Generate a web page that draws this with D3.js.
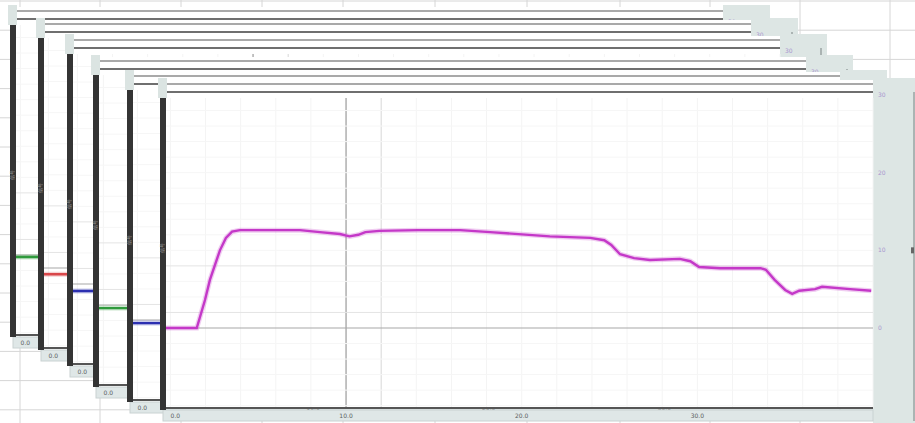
<!DOCTYPE html>
<html>
<head>
<meta charset="utf-8">
<script src="https://cdn.jsdelivr.net/npm/d3@7"></script>
<style>
  body { margin: 0; background: #fff; }
  svg { display: block; font-family: "DejaVu Sans", sans-serif; }
</style>
</head>
<body>
<svg></svg>
<script>
const svg = d3.select('svg')
	.attr('width', 915)
	.attr('height', 423);

// main trace (front window): time and reading
const times  = [-0.25, 1.5, 1.97, 2.25, 2.82, 3.16, 3.51, 3.96, 7.38, 8.51, 9.65, 10.2, 10.7, 11.1, 11.9, 14.1, 16.5, 18.2, 21.6, 23.9, 24.7, 25.1, 25.6, 26.4, 27.3, 29.0, 29.6, 30.1, 31.3, 33.6, 33.9, 34.4, 35.0, 35.4, 35.8, 36.7, 37.1, 38.7, 39.9];
const values = [0, 0, 3.6, 6.2, 10.0, 11.6, 12.4, 12.6, 12.6, 12.35, 12.1, 11.8, 12.0, 12.35, 12.5, 12.6, 12.6, 12.35, 11.8, 11.6, 11.3, 10.7, 9.5, 9.0, 8.75, 8.9, 8.6, 7.85, 7.7, 7.7, 7.5, 6.2, 4.9, 4.4, 4.8, 5.0, 5.3, 5.0, 4.8];

// the windows stacked behind: only the start of each trace shows
const backTimes  = [-0.25, 1.6];
const backLevels = [-0.25, -0.8, -0.9, -0.4, -0.4];
const backColors = ['#2f9a3c', '#d9474a', '#2b2fb0', '#2f9a3c', '#2b2fb0'];

const xTicks = [0, 10, 20, 30];
const xTickLabels = ['0.0', '10.0', '20.0', '30.0'];
const yTicks = [0, 10, 20, 30];
const yTickLabels = ['0', '10', '20', '30'];

// window placement (left edge of dark bar, top of plot)
const wins = [
	{L: 10,  T: 25},
	{L: 38,  T: 38},
	{L: 67,  T: 54},
	{L: 93,  T: 75},
	{L: 127, T: 90},
	{L: 160, T: 98}
];

const plotW = 713, plotH = 310, panelW = 47;

// spreadsheet behind everything
const sheet = svg.append('g');
const colX = [20, 100, 181, 262, 343, 435, 527, 620, 710, 800, 890];
sheet.selectAll('line.c').data(colX).enter().append('line')
	.attr('x1', d => d).attr('x2', d => d)
	.attr('y1', 0).attr('y2', 423)
	.attr('stroke', '#d6d6d6');
sheet.selectAll('line.r').data(d3.range(1, 423, 29.2)).enter().append('line')
	.attr('x1', 0).attr('x2', 915)
	.attr('y1', d => d).attr('y2', d => d)
	.attr('stroke', '#d6d6d6');

const x = d3.scaleLinear().domain([-0.25, 40]).range([6, plotW]);
const y = d3.scaleLinear().domain([0, 30]).range([230, -3]);

const line = d3.line()
	.x(d => x(d[0]))
	.y(d => y(d[1]));

function drawWindow(w, i) {
	const g = svg.append('g').attr('transform', `translate(${w.L}, ${w.T})`);

	// right side panel
	g.append('rect')
		.attr('x', plotW).attr('y', -20)
		.attr('width', panelW).attr('height', 345)
		.attr('fill', '#dde6e4');
	g.append('line')
		.attr('x1', plotW + 41).attr('x2', plotW + 41)
		.attr('y1', -6).attr('y2', 323)
		.attr('stroke', '#9aa3a3').attr('stroke-width', 1.5);

	// header band with its double rule
	g.append('rect')
		.attr('x', 6).attr('y', -18)
		.attr('width', plotW - 6).attr('height', 18)
		.attr('fill', '#fff');
	g.append('line')
		.attr('x1', 6).attr('x2', plotW)
		.attr('y1', -14).attr('y2', -14)
		.attr('stroke', '#8d8d8d').attr('stroke-width', 1.6);
	g.append('line')
		.attr('x1', 6).attr('x2', plotW)
		.attr('y1', -6).attr('y2', -6)
		.attr('stroke', '#6f6f6f').attr('stroke-width', 2);
	g.append('rect')
		.attr('x', -2).attr('y', -20)
		.attr('width', 9).attr('height', 20)
		.attr('fill', '#dbe4e2');

	// plot area
	g.append('rect')
		.attr('x', 6).attr('y', 0)
		.attr('width', plotW - 6).attr('height', plotH)
		.attr('fill', '#fff');

	g.append('g').selectAll('line')
		.data(d3.range(0, 41, 2)).enter().append('line')
		.attr('x1', d => x(d)).attr('x2', d => x(d))
		.attr('y1', 0).attr('y2', plotH)
		.attr('stroke', d => d === 10 ? '#9a9a9a' : (d === 12 ? '#d8d8d8' : '#f4f4f4'))
		.attr('stroke-width', d => d === 10 ? 1.2 : 1);
	g.append('g').selectAll('line')
		.data(d3.range(-10, 30, 2)).enter().append('line')
		.attr('x1', 6).attr('x2', plotW)
		.attr('y1', d => y(d)).attr('y2', d => y(d))
		.attr('stroke', d => d === 0 ? '#a8a8a8' : (d === 2 || d === 8) ? '#e4e4e4' : '#f6f6f6')
		.attr('stroke-width', d => d === 0 ? 1.2 : 1);

	// trace
	const pts = i === wins.length - 1
		? times.map((t, k) => [t, values[k]])
		: backTimes.map(t => [t, backLevels[i]]);
	const col = i === wins.length - 1 ? '#c438c8' : backColors[i];
	g.append('path').datum(pts)
		.attr('d', line)
		.attr('fill', 'none')
		.attr('stroke', col)
		.attr('stroke-opacity', 0.25)
		.attr('stroke-width', 5);
	g.append('path').datum(pts)
		.attr('d', line)
		.attr('fill', 'none')
		.attr('stroke', col)
		.attr('stroke-width', 2.4);

	// bottom rule and label bar
	g.append('line')
		.attr('x1', 6).attr('x2', plotW)
		.attr('y1', plotH).attr('y2', plotH)
		.attr('stroke', '#555').attr('stroke-width', 2);
	g.append('rect')
		.attr('x', 3).attr('y', plotH + 2)
		.attr('width', plotW - 3).attr('height', 11)
		.attr('fill', '#dfe7e7')
		.attr('stroke', '#c9d2d2');
	g.append('g').selectAll('text')
		.data(xTicks).enter().append('text')
		.attr('x', (d, k) => x(d) + (k === 0 ? 5 : 0))
		.attr('y', plotH + 10)
		.attr('text-anchor', 'middle')
		.attr('font-size', 6)
		.attr('fill', '#5a6060')
		.text((d, k) => xTickLabels[k]);

	// y labels on the side panel
	g.append('g').selectAll('text')
		.data(yTicks).enter().append('text')
		.attr('x', plotW + 5)
		.attr('y', d => y(d) + 2)
		.attr('font-size', 6)
		.attr('fill', '#a996cf')
		.text((d, k) => yTickLabels[k]);
	g.append('rect')
		.attr('x', plotW + 38).attr('y', y(10) - 3)
		.attr('width', 3).attr('height', 6)
		.attr('fill', '#666');

	// dark axis strip on the left
	g.append('rect')
		.attr('x', 0).attr('y', 0)
		.attr('width', 6).attr('height', plotH + 2)
		.attr('fill', '#343434');
	g.append('text')
		.attr('transform', `translate(4, 150) rotate(-90)`)
		.attr('text-anchor', 'middle')
		.attr('font-size', 5)
		.attr('fill', '#9a9a9a')
		.text('信号');
}

wins.forEach(drawWindow);
</script>
</body>
</html>
